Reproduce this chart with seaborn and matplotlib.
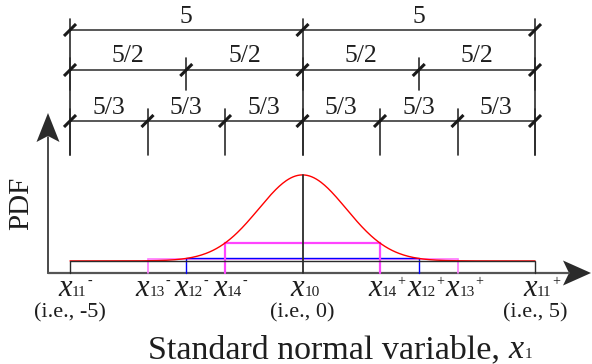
import numpy as np
import matplotlib.pyplot as plt
import seaborn as sns
from matplotlib.transforms import offset_copy

# bell curve drawn on top of a thin base strip (shape)
pdf_peak = 0.399
pdf_sigma = 0.94
base_height = 0.056
x_grid = np.linspace(-5, 5, 401)

# rectangles: half width and top height
box_half = [5, 10 / 3, 5 / 2, 5 / 3]
box_top = [0.056, 0.0635, 0.071, 0.1405]
box_color = ["#2b2b2b", "#ff77ff", "#0000ff", "#ff44ff"]
box_lw = [1.0, 1.2, 1.0, 1.6]

# x-axis labels
tick_pos = [-5, -10 / 3, -5 / 2, -5 / 3, 0, 5 / 3, 5 / 2, 10 / 3, 5]
tick_sub = ["11", "13", "12", "14", "10", "14", "12", "13", "11"]
tick_sign = ["-", "-", "-", "-", "", "+", "+", "+", "+"]
note_pos = [-5, 0, 5]
note_text = ["(i.e., -5)", "(i.e., 0)", "(i.e., 5)"]

# dimension rows on top
dim_text = ["5", "5/2", "5/3"]
dim_step = [5, 5 / 2, 5 / 3]

sns.set_theme(style="white")
plt.rcParams['font.family'] = ['Liberation Serif', 'DejaVu Serif']
ink = "#1e1e1e"
dark = "#2b2b2b"

fig = plt.figure(figsize=(5.92, 3.64), dpi=100)
ax = fig.add_axes([0, 0, 1, 1])
ax.set_axis_off()

# pixel layout of the reference
PX, X0 = 46.5, 302.5
KY, Y0 = 215.6, 273
ax.set_xlim(-X0 / PX, (592 - X0) / PX)
ax.set_ylim(-(364 - Y0) / KY, Y0 / KY)


def xx(px):
    return (px - X0) / PX


def yy(px):
    return (Y0 - px) / KY


# axes with arrow heads
ax.plot([xx(48), xx(48)], [0, yy(137)], color=dark, lw=1.2)
ax.plot([xx(48), xx(569)], [0, 0], color="#555555", lw=1.6)
head_y = [(48, 113), (36.5, 142), (48, 136), (59.5, 142)]
head_x = [(591, 273), (563, 260.5), (569, 273), (563, 285.5)]
for head in (head_y, head_x):
    ax.fill([xx(p[0]) for p in head], [yy(p[1]) for p in head], color=dark, lw=0)

# curve
curve = base_height + pdf_peak * np.exp(-x_grid ** 2 / (2 * pdf_sigma ** 2))
sns.lineplot(x=x_grid, y=curve, color="red", lw=1.0, ax=ax, zorder=3)
ax.plot([0, 0], [0, base_height + pdf_peak], color=dark, lw=1.3, zorder=4)

# rectangles
for h, top, c, lw in zip(box_half, box_top, box_color, box_lw):
    z = 5 if c == "#2b2b2b" else 2
    ax.plot([-h, -h, h, h], [0, top, top, 0], color=c, lw=lw, zorder=z,
            solid_joinstyle="miter")

# dimension lines
rows_px = [30, 70, 121]
label_px = [17, 56, 108]
ext_px = [(19, 155), (58, 90), (109, 155)]
for step, txt, rp, lp, (e0, e1) in zip(dim_step, dim_text, rows_px, label_px, ext_px):
    pts = np.arange(-5, 5 + 1e-9, step)
    ax.plot([-5, 5], [yy(rp), yy(rp)], color="#4a4a4a", lw=1.3)
    for p in pts:
        ax.plot([p, p], [yy(e0), yy(e1)], color=dark, lw=1.2)
        ax.plot([p - 6 / PX, p + 6 / PX], [yy(rp + 6), yy(rp - 6)], color="#1a1a1a",
                lw=2.2, solid_capstyle="butt")
    for a, b in zip(pts[:-1], pts[1:]):
        ax.text((a + b) / 2, yy(lp), txt, fontsize=18.5, ha="center", va="center",
                color=ink)

# x labels
tr = offset_copy(ax.transData, fig=fig, x=-5, y=0, units="dots")
for p, sub, sign in zip(tick_pos, tick_sub, tick_sign):
    t = ax.text(p, yy(296), "x", transform=tr, fontsize=22, fontstyle="italic",
                ha="center", va="baseline", color=ink)
    s = ax.annotate(sub, xy=(1, 0), xycoords=t, xytext=(0, 3),
                    textcoords="offset points", fontsize=11, ha="left",
                    va="bottom", color=ink)
    if sign:
        ax.annotate(sign, xy=(1, 1), xycoords=s, xytext=(0.5, 8),
                    textcoords="offset points", fontsize=10, ha="left",
                    va="top", color=ink)
for p, txt in zip(note_pos, note_text):
    ax.text(p, yy(313), txt, fontsize=16, ha="center", va="center", color=ink)

# axis titles
ax.text(xx(21), yy(203), "PDF", rotation=90, fontsize=21, ha="center",
        va="center", color=ink)
lab = ax.text(xx(148), yy(358), "Standard normal variable, ", fontsize=24.5,
              ha="left", va="baseline", color=ink)
lx = ax.annotate("x", xy=(1, 0), xycoords=lab, fontsize=24.5, fontstyle="italic",
                 ha="left", va="bottom", color=ink)
ax.annotate("1", xy=(1, 0), xycoords=lx, xytext=(0.5, 3), textcoords="offset points",
            fontsize=11, ha="left", va="bottom", color=ink)

fig.savefig("out.png", dpi=100)
